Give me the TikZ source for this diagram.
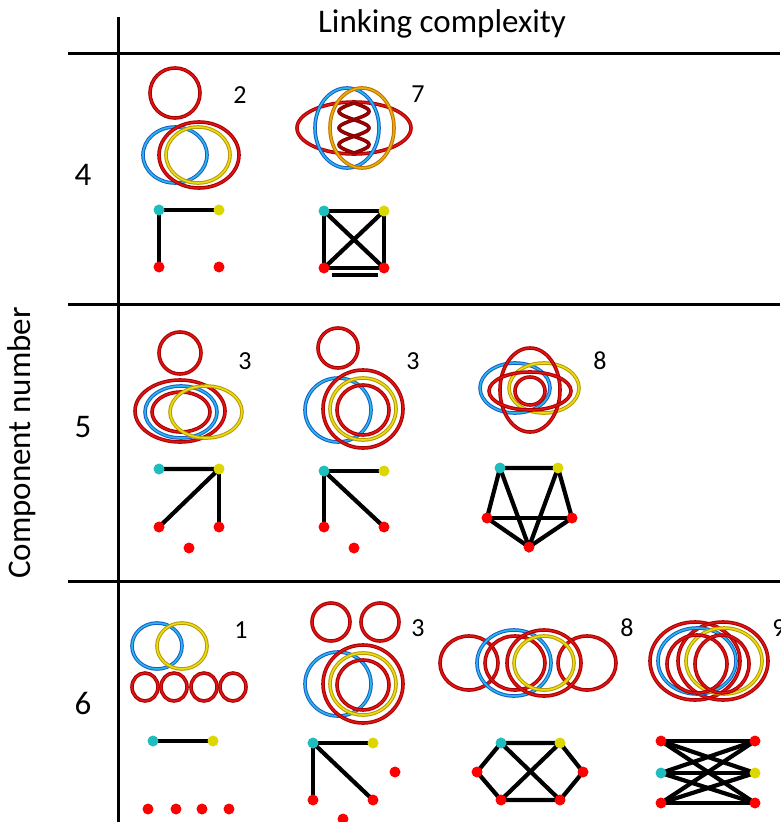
\documentclass[tikz,border=0pt]{standalone}
\usepackage{fontspec}
\setmainfont{Carlito}
\definecolor{rdark}{RGB}{165,0,0}
\definecolor{rlight}{RGB}{225,20,20}
\definecolor{bdark}{RGB}{25,90,200}
\definecolor{blight}{RGB}{40,185,235}
\definecolor{ydark}{RGB}{185,150,0}
\definecolor{ylight}{RGB}{232,222,20}
\definecolor{odark}{RGB}{190,110,0}
\definecolor{olight}{RGB}{230,175,10}
\definecolor{cdark}{RGB}{120,0,0}
\definecolor{dotcyan}{RGB}{30,190,190}
\definecolor{dotyellow}{RGB}{220,215,0}
\definecolor{dotred}{RGB}{255,0,0}
% one link component: style, centre x, centre y, x radius, y radius
\newcommand\lnkring[5]{\draw[#1] (#2,#3) ellipse [x radius=#4pt, y radius=#5pt];}
\begin{document}
\begin{tikzpicture}[x=1pt,y=-1pt,
  gridline/.style={line width=3pt, black},
  ringbase/.style={line width=1pt, double distance=1.6pt},
  redring/.style={ringbase, draw=rdark, double=rlight},
  bluering/.style={ringbase, draw=bdark, double=blight},
  yellowring/.style={ringbase, draw=ydark, double=ylight},
  orangering/.style={ringbase, draw=odark, double=olight},
  coil/.style={ringbase, draw=cdark, double=rdark},
  vtx/.style={circle, inner sep=0pt, minimum size=11pt},
  cv/.style={vtx, fill=dotcyan},
  yv/.style={vtx, fill=dotyellow},
  rv/.style={vtx, fill=dotred},
  edge/.style={line width=4.2pt, black},
  count/.style={font=\fontsize{26}{30}\selectfont},
  rowlabel/.style={font=\fontsize{33}{38}\selectfont},
  axislabel/.style={font=\fontsize{33}{38}\selectfont}]
\useasboundingbox (0,0) rectangle (780,822);

% table frame
\coordinate (vtop) at (118,17);
\coordinate (vbot) at (118,822);
\coordinate (h1l) at (68,53);  \coordinate (h1r) at (780,53);
\coordinate (h2l) at (68,304); \coordinate (h2r) at (780,304);
\coordinate (h3l) at (68,581); \coordinate (h3r) at (780,581);
\draw[gridline] (vtop) -- (vbot);
\draw[gridline] (h1l) -- (h1r);
\draw[gridline] (h2l) -- (h2r);
\draw[gridline] (h3l) -- (h3r);

\node[axislabel] (title) at (442,24) {Linking complexity};
\node[axislabel, rotate=90] (yaxis) at (22,443) {Component number};
\node[rowlabel] (row4) at (83,175) {4};
\node[rowlabel] (row5) at (83,427) {5};
\node[rowlabel] (row6) at (83,703) {6};

% ---------- four components ----------
% linking 2
\lnkring{redring}{175}{93}{25}{25}
\lnkring{bluering}{175}{155}{32}{28}
\lnkring{redring}{199}{155}{40}{33}
\lnkring{yellowring}{198}{155}{32}{28}
\node[count] (n42) at (240,95) {2};
\coordinate (g1c) at (159,210);
\coordinate (g1y) at (219,210);
\coordinate (g1r1) at (159,267);
\draw[edge] (g1y) -- (g1c) -- (g1r1);
\node[cv] (v1c) at (g1c) {};
\node[yv] (v1y) at (g1y) {};
\node[rv] (v1r1) at (g1r1) {};
\node[rv] (v1r2) at (219,267) {};

% linking 7
\lnkring{redring}{354}{128}{57}{26}
\draw[coil] plot[domain=0:540, samples=90] ({354+15*sin(\x)},{103+\x/540*50});
\draw[coil] plot[domain=0:540, samples=90] ({354-15*sin(\x)},{103+\x/540*50});
\lnkring{bluering}{347}{128}{32}{40}
\lnkring{orangering}{362}{128}{32}{40}
\node[count] (n47) at (418,94) {7};
\coordinate (g2c) at (324,211);
\coordinate (g2y) at (384,211);
\coordinate (g2r1) at (324,268);
\coordinate (g2r2) at (384,268);
\coordinate (g2d1) at (332,275);
\coordinate (g2d2) at (378,275);
\draw[edge] (g2c) -- (g2y) -- (g2r2) -- (g2r1) -- cycle;
\draw[edge] (g2c) -- (g2r2);
\draw[edge] (g2y) -- (g2r1);
\draw[edge] (g2d1) -- (g2d2);
\node[cv] (v2c) at (g2c) {};
\node[yv] (v2y) at (g2y) {};
\node[rv] (v2r1) at (g2r1) {};
\node[rv] (v2r2) at (g2r2) {};

% ---------- five components ----------
% linking 3 (first)
\lnkring{redring}{180}{353}{21}{21}
\lnkring{redring}{180}{411}{45}{31}
\lnkring{bluering}{181}{412}{36}{26}
\lnkring{redring}{181}{412}{29}{20}
\lnkring{yellowring}{206}{412}{36}{26}
\node[count] (n53a) at (245,361) {3};
\coordinate (g3c) at (159,469);
\coordinate (g3y) at (219,469);
\coordinate (g3r1) at (159,527);
\coordinate (g3r2) at (219,527);
\draw[edge] (g3c) -- (g3y) -- (g3r1);
\draw[edge] (g3y) -- (g3r2);
\node[cv] (v3c) at (g3c) {};
\node[yv] (v3y) at (g3y) {};
\node[rv] (v3r1) at (g3r1) {};
\node[rv] (v3r2) at (g3r2) {};
\node[rv] (v3r3) at (189,548) {};

% linking 3 (second)
\lnkring{redring}{338}{348}{20}{20}
\lnkring{bluering}{338}{410}{33}{32}
\lnkring{redring}{363}{409}{40}{39}
\lnkring{yellowring}{363}{409}{33}{31}
\lnkring{redring}{363}{410}{26}{25}
\node[count] (n53b) at (413,361) {3};
\coordinate (g4c) at (324,471);
\coordinate (g4y) at (384,471);
\coordinate (g4r1) at (324,527);
\coordinate (g4r2) at (384,527);
\draw[edge] (g4y) -- (g4c) -- (g4r1);
\draw[edge] (g4c) -- (g4r2);
\node[cv] (v4c) at (g4c) {};
\node[yv] (v4y) at (g4y) {};
\node[rv] (v4r1) at (g4r1) {};
\node[rv] (v4r2) at (g4r2) {};
\node[rv] (v4r3) at (354,548) {};

% linking 8
\lnkring{bluering}{515}{388}{35}{25}
\lnkring{yellowring}{544}{388}{35}{25}
\lnkring{redring}{530}{390}{30}{42}
\lnkring{redring}{530}{391}{41}{19}
\lnkring{redring}{530}{391}{15}{14}
\node[count] (n58) at (600,361) {8};
\coordinate (g5c) at (500,468);
\coordinate (g5y) at (558,468);
\coordinate (g5l) at (487,518);
\coordinate (g5r) at (572,518);
\coordinate (g5b) at (529,547);
\draw[edge] (g5c) -- (g5y) -- (g5r) -- (g5b) -- (g5l) -- cycle;
\draw[edge] (g5c) -- (g5b) -- (g5y);
\draw[edge] (g5l) -- (g5r);
\node[cv] (v5c) at (g5c) {};
\node[yv] (v5y) at (g5y) {};
\node[rv] (v5l) at (g5l) {};
\node[rv] (v5r) at (g5r) {};
\node[rv] (v5b) at (g5b) {};

% ---------- six components ----------
% linking 1
\lnkring{bluering}{157}{646}{25}{23}
\lnkring{yellowring}{182}{646}{25}{23}
\lnkring{redring}{145}{687}{13}{14}
\lnkring{redring}{174}{687}{13}{14}
\lnkring{redring}{204}{687}{13}{14}
\lnkring{redring}{233}{687}{13}{14}
\node[count] (n61) at (241,630) {1};
\coordinate (g6c) at (153,741);
\coordinate (g6y) at (213,741);
\draw[edge] (g6c) -- (g6y);
\node[cv] (v6c) at (g6c) {};
\node[yv] (v6y) at (g6y) {};
\node[rv] (v6r1) at (148,809) {};
\node[rv] (v6r2) at (176,809) {};
\node[rv] (v6r3) at (202,809) {};
\node[rv] (v6r4) at (229,809) {};

% linking 3
\lnkring{redring}{331}{622}{19}{19}
\lnkring{redring}{380}{622}{19}{19}
\lnkring{bluering}{338}{684}{33}{32}
\lnkring{redring}{363}{684}{40}{39}
\lnkring{yellowring}{363}{684}{33}{31}
\lnkring{redring}{363}{685}{26}{25}
\node[count] (n63) at (418,628) {3};
\coordinate (g7c) at (313,743);
\coordinate (g7y) at (373,743);
\coordinate (g7r1) at (313,800);
\coordinate (g7r2) at (373,800);
\draw[edge] (g7y) -- (g7c) -- (g7r1);
\draw[edge] (g7c) -- (g7r2);
\node[cv] (v7c) at (g7c) {};
\node[yv] (v7y) at (g7y) {};
\node[rv] (v7r1) at (g7r1) {};
\node[rv] (v7r2) at (g7r2) {};
\node[rv] (v7r3) at (395,772) {};
\node[rv] (v7r4) at (343,819) {};

% linking 8
\lnkring{redring}{469}{663}{29}{27}
\lnkring{redring}{587}{663}{29}{27}
\lnkring{bluering}{514}{663}{37}{33}
\lnkring{redring}{515}{663}{30}{27}
\lnkring{redring}{544}{663}{37}{33}
\lnkring{yellowring}{544}{663}{30}{27}
\node[count] (n68) at (627,628) {8};
\coordinate (g8c) at (501,743);
\coordinate (g8y) at (560,743);
\coordinate (g8l) at (477,772);
\coordinate (g8r) at (583,772);
\coordinate (g8bl) at (501,800);
\coordinate (g8br) at (560,800);
\draw[edge] (g8c) -- (g8y) -- (g8r) -- (g8br) -- (g8bl) -- (g8l) -- cycle;
\draw[edge] (g8c) -- (g8br);
\draw[edge] (g8y) -- (g8bl);
\node[cv] (v8c) at (g8c) {};
\node[yv] (v8y) at (g8y) {};
\node[rv] (v8l) at (g8l) {};
\node[rv] (v8r) at (g8r) {};
\node[rv] (v8bl) at (g8bl) {};
\node[rv] (v8br) at (g8br) {};

% linking 9 (label runs off the right edge)
\lnkring{redring}{695}{661}{45}{39}
\lnkring{redring}{723}{661}{45}{39}
\lnkring{bluering}{697}{661}{39}{33}
\lnkring{yellowring}{724}{661}{38}{33}
\lnkring{redring}{697}{664}{30}{29}
\lnkring{redring}{722}{664}{27}{29}
\node[count] (n69) at (779,628) {9};
\coordinate (g9tl) at (661,741);
\coordinate (g9ml) at (661,773);
\coordinate (g9bl) at (661,803);
\coordinate (g9tr) at (755,741);
\coordinate (g9mr) at (755,773);
\coordinate (g9br) at (755,803);
\foreach \a in {g9tl,g9ml,g9bl}
  \foreach \b in {g9tr,g9mr,g9br}
    \draw[edge] (\a) -- (\b);
\node[rv] (v9tl) at (g9tl) {};
\node[cv] (v9ml) at (g9ml) {};
\node[rv] (v9bl) at (g9bl) {};
\node[rv] (v9tr) at (g9tr) {};
\node[yv] (v9mr) at (g9mr) {};
\node[rv] (v9br) at (g9br) {};
\end{tikzpicture}
\end{document}
